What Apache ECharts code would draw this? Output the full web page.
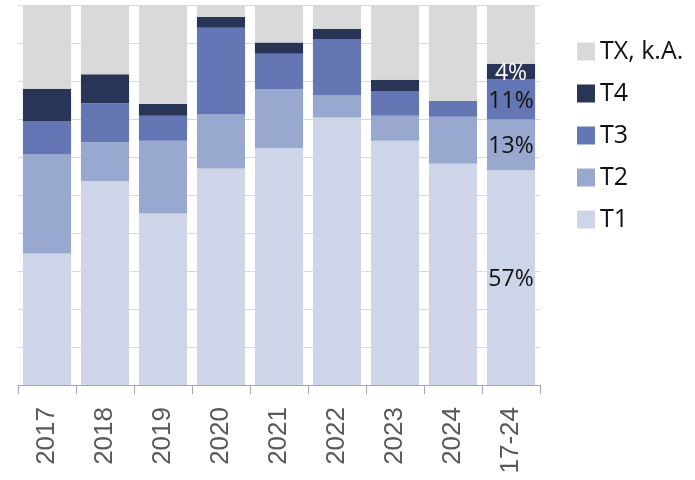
<!DOCTYPE html>
<html>
<head>
<meta charset="utf-8">
<script src="https://cdn.jsdelivr.net/npm/echarts@6/dist/echarts.min.js"></script>
<style>html,body{margin:0;padding:0;background:#fff}#c{width:695px;height:480px}</style>
</head>
<body>
<div id="c"></div>
<script>
const categories = ['2017','2018','2019','2020','2021','2022','2023','2024','17-24'];
const T1 = [34.7, 53.7, 45.2, 57.1, 62.4, 70.5, 64.4, 58.3, 56.6];
const T2 = [26.1, 10.3, 19.2, 14.2, 15.6, 5.8, 6.6, 12.4, 13.4];
const T3 = [8.7, 10.3, 6.6, 22.9, 9.3, 14.8, 6.4, 4.2, 10.7];
const T4 = [8.6, 7.6, 3.1, 2.8, 3.0, 2.8, 3.1, 0, 4.0];
const TX = [21.9, 18.1, 25.9, 3.0, 9.7, 6.1, 19.5, 25.1, 15.3];
const yTicks = [0,10,20,30,40,50,60,70,80,90,100];

const labelIdx = categories.length - 1;
function mk(name, data, color, labelColor, showLabel) {
  return {
    name: name, type: 'bar', stack: 'all', barCategoryGap: '17%',
    itemStyle: { color: color },
    emphasis: { disabled: true },
    data: data.map((v, i) => (showLabel && i === labelIdx) ? {
      value: v,
      label: { show: true, position: 'inside', color: labelColor, fontSize: 23,
        fontFamily: 'Open Sans', offset: [0, 2], formatter: p => Math.round(p.value) + '%' }
    } : v)
  };
}

const chart = echarts.init(document.getElementById('c'));
chart.setOption({
  animation: false,
  grid: { left: 18, right: 155, top: 5.7, bottom: 95 },
  legend: {
    orient: 'vertical', left: 572, top: 34,
    itemWidth: 18, itemHeight: 18, itemGap: 17, itemTextGap: 10,
    icon: 'rect',
    data: ['TX, k.A.', 'T4', 'T3', 'T2', 'T1'],
    textStyle: { fontSize: 25, fontFamily: 'Open Sans', color: '#111', lineHeight: 25 }
  },
  xAxis: {
    type: 'category', data: categories,
    axisLine: { lineStyle: { color: '#a6a6a6', width: 1 } },
    axisTick: { show: true, length: 9, lineStyle: { color: '#a6a6a6' } },
    axisLabel: { rotate: 90, fontSize: 26, color: '#595959', margin: 22, fontFamily: 'Liberation Sans' }
  },
  yAxis: {
    type: 'value', min: yTicks[0], max: yTicks[yTicks.length - 1], interval: yTicks[1] - yTicks[0],
    axisLabel: { show: false }, axisLine: { show: false }, axisTick: { show: false },
    splitLine: { lineStyle: { color: '#d9d9d9', width: 1 } }
  },
  series: [
    mk('T1', T1, '#cfd5e8', '#111', true),
    mk('T2', T2, '#98a8cf', '#111', true),
    mk('T3', T3, '#6477b4', '#111', true),
    mk('T4', T4, '#283556', '#fff', true),
    mk('TX, k.A.', TX, '#d9d9d9', '#111', false)
  ]
});
</script>
</body>
</html>
